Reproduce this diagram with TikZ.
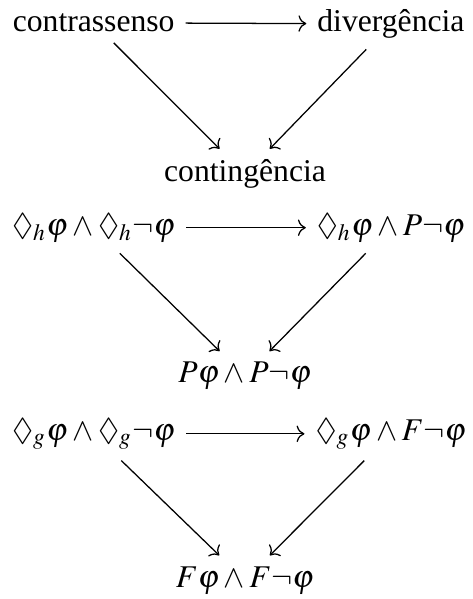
\documentclass[tikz,border=0pt]{standalone}
\usepackage{amssymb}
\usepackage{mathptmx}
\usepackage[no-math]{fontspec}
\setmainfont{Liberation Serif}
\usepackage{tikz}
\usetikzlibrary{arrows.meta}

\begin{document}
\begin{tikzpicture}[seta/.style={->, line width=0.4pt}, termo/.style={anchor=base, inner sep=3.3pt}]
    \useasboundingbox (0,0) rectangle (5.24,6.65);
    % contrassenso / divergencia / contingencia
    \node[termo] (l1) at (1.04,6.30) {contrassenso};
    \node[termo] (r1) at (4.34,6.30) {divergência};
    \node[termo] (b1) at (2.72,4.63) {contingência};
    % passado
    \node[termo] (l2) at (1.04,4.04) {$\Diamond_h\varphi\wedge\Diamond_h\neg\varphi$};
    \node[termo] (r2) at (4.34,4.04) {$\Diamond_h\varphi\wedge P\neg\varphi$};
    \node[termo] (b2) at (2.72,2.40) {$P\varphi\wedge P\neg\varphi$};
    % futuro
    \node[termo] (l3) at (1.04,1.765) {$\Diamond_g\varphi\wedge\Diamond_g\neg\varphi$};
    \node[termo] (r3) at (4.34,1.765) {$\Diamond_g\varphi\wedge F\neg\varphi$};
    \node[termo] (b3) at (2.72,0.133) {$F\varphi\wedge F\neg\varphi$};
    % Pfeile
    \foreach \k in {1,2,3}{
      \draw[seta] (l\k) -- (r\k);
      \draw[seta] (l\k) -- (b\k);
      \draw[seta] (r\k) -- (b\k);
    }
\end{tikzpicture}
\end{document}
